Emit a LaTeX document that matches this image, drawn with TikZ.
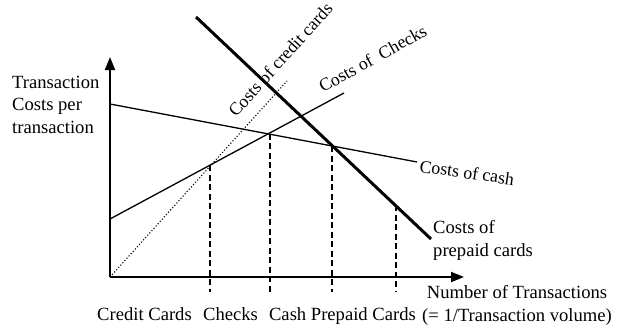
\documentclass[tikz,border=0pt]{standalone}
\usepackage{fontspec}
\setmainfont{Liberation Serif}
\usetikzlibrary{arrows.meta}
\begin{document}
\begin{tikzpicture}[x=1pt,y=-1pt,
  lbl/.style={font=\fontsize{18.6}{22.5}\selectfont, inner sep=0pt},
  rlbl/.style={font=\fontsize{17.8}{21}\selectfont, inner sep=0pt},
  axis/.style={line width=2pt,-{Triangle[length=13pt,width=10pt]}},
  cost/.style={line width=1.3pt},
  heavy/.style={line width=3pt},
  guide/.style={line width=2pt,dash pattern=on 6pt off 3.5pt},
  dotline/.style={line width=1.1pt,dotted}]
\useasboundingbox (0,0) rectangle (618,332);
% axes
\coordinate (O) at (110,277);
\coordinate (ytip) at (110,57);
\coordinate (xtip) at (464,277);
\draw[axis] (O) -- (ytip);
\draw[axis] (O) -- (xtip);
% cost curves
\coordinate (cashA) at (110,104);
\coordinate (cashB) at (417,162);
\coordinate (chkA) at (110,219);
\coordinate (chkB) at (344,93);
\coordinate (ccB) at (287,81);
\coordinate (ppA) at (196,17);
\coordinate (ppB) at (431,239);
\draw[cost] (cashA) -- (cashB);
\draw[cost] (chkA) -- (chkB);
\draw[dotline] (O) -- (ccB);
\draw[heavy] (ppA) -- (ppB);
% guides
\coordinate (g1) at (210,165);
\coordinate (g2) at (270,133.5);
\coordinate (g3) at (332,146);
\coordinate (g4) at (396,205);
\coordinate (h1) at (210,292);
\coordinate (h2) at (270,292);
\coordinate (h3) at (332,292);
\coordinate (h4) at (396,292);
\draw[guide] (g1) -- (h1);
\draw[guide] (g2) -- (h2);
\draw[guide] (g3) -- (h3);
\draw[guide] (g4) -- (h4);
% curve labels
\node[rlbl, anchor=base west, rotate=48] (lcc) at (236,118) {Costs of credit cards};
\node[rlbl, anchor=base west, rotate=29] (lchk) at (323,93) {Costs of\ \ Checks};
\node[rlbl, anchor=base west, rotate=-8] (lcash) at (419,172) {Costs of cash};
\node[lbl, anchor=base west, align=left] (lpp) at (433,256) {Costs of\\prepaid cards};
% axis labels
\node[lbl, anchor=base west, align=left] (ylab) at (12,133) {Transaction\\Costs per\\transaction};
\node[lbl, anchor=base, align=center] (xlab) at (517,321) {Number of Transactions\\(= 1/Transaction volume)};
\node[lbl, anchor=base] (t1) at (144.5,320) {Credit Cards};
\node[lbl, anchor=base] (t2) at (230.5,320) {Checks};
\node[lbl, anchor=base east] (t3) at (416,320) {Cash Prepaid Cards};
\end{tikzpicture}
\end{document}
